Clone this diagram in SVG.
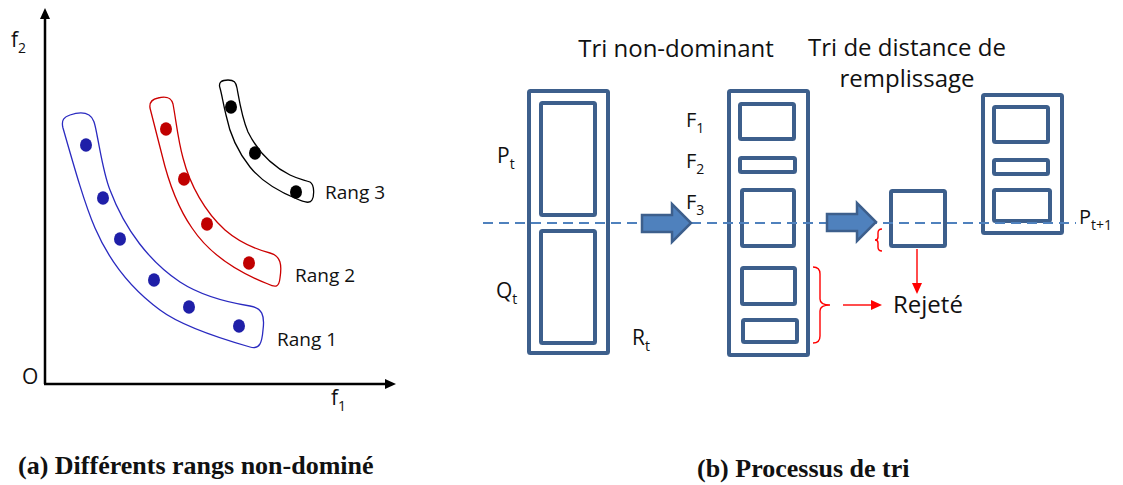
<svg xmlns="http://www.w3.org/2000/svg" width="1123" height="485" viewBox="0 0 1123 485">
<style>
.t{font-family:"Open Sans","Liberation Sans",sans-serif;fill:#111}
.cap{font-family:"Liberation Serif",serif;font-weight:bold;font-size:26px;fill:#111}
.box{fill:none;stroke:#3D5F8C;stroke-width:4}
.arr{fill:#4F81BD;stroke:#3D5F8C;stroke-width:2.5;stroke-linejoin:miter}
.red{fill:none;stroke:#FF0000;stroke-width:1.4}
.hull{fill:none;stroke-width:1.3}
</style>
<rect width="1123" height="485" fill="#fff"/>

<!-- (a) panel -->
<g id="axes">
<line x1="45" y1="384" x2="45" y2="17" stroke="#000" stroke-width="2.5"/>
<polygon points="40,19 50,19 45,8" fill="#000"/>
<line x1="44" y1="384" x2="386" y2="384" stroke="#000" stroke-width="2.5"/>
<polygon points="385,379 385,389 396,384" fill="#000"/>
<text class="t" x="11" y="47" font-size="21">f<tspan font-size="14" dy="6">2</tspan></text>
<text class="t" x="22" y="384" font-size="21">O</text>
<text class="t" x="331" y="405" font-size="21">f<tspan font-size="14" dy="6">1</tspan></text>
</g>

<g id="rang1">
<path class="hull" stroke="#2a2ac0" d="M63,128 C61,120 64,117 70,115 C76,113 84,112 89,115 C94,118 95,125 97,135 C101,155 104,175 110,190 C125,230 150,262 180,282 C200,295 225,302 250,306 C262,308 265,315 263,330 C262,342 260,350 250,347 C215,337 180,325 160,310 C130,288 108,258 95,228 C85,205 75,170 63,128 Z"/>
<g fill="#1f1fa8">
<ellipse cx="86" cy="145" rx="6" ry="6.7"/>
<ellipse cx="103" cy="198" rx="6" ry="6.7"/>
<ellipse cx="120" cy="239" rx="6" ry="6.7"/>
<ellipse cx="154" cy="280" rx="6" ry="6.7"/>
<ellipse cx="189" cy="307" rx="6" ry="6.7"/>
<ellipse cx="239" cy="326" rx="6" ry="6.7"/>
</g>
<text class="t" x="277" y="346" font-size="19">Rang 1</text>
</g>

<g id="rang2">
<path class="hull" stroke="#cc0000" d="M150,108 C149,101 153,99 158,98 C166,96 171,97 173,104 C176,120 178,140 183,158 C190,185 205,212 225,230 C240,243 255,249 270,253 C281,256 282,265 280,278 C279,287 276,288 268,284 C240,273 210,255 192,228 C176,205 168,180 162,155 C157,135 153,120 150,108 Z"/>
<g fill="#c00000">
<ellipse cx="166" cy="129" rx="6" ry="6.7"/>
<ellipse cx="184" cy="179" rx="6" ry="6.7"/>
<ellipse cx="207" cy="224" rx="6" ry="6.7"/>
<ellipse cx="249" cy="263" rx="6" ry="6.7"/>
</g>
<text class="t" x="295" y="282" font-size="19">Rang 2</text>
</g>

<g id="rang3">
<path class="hull" stroke="#000" d="M220,88 C218,82 222,80 228,80 C234,80 236,82 237,88 C240,105 242,118 248,132 C257,150 270,165 290,175 C298,179 305,180 310,182 C315,185 314,197 312,200 C310,204 304,202 297,199 C280,192 262,182 250,167 C238,152 230,135 226,115 C223,103 222,95 220,88 Z"/>
<g fill="#000">
<ellipse cx="231" cy="107" rx="6" ry="6.7"/>
<ellipse cx="255" cy="153" rx="6" ry="6.7"/>
<ellipse cx="296" cy="192" rx="6" ry="6.7"/>
</g>
<text class="t" x="325" y="199" font-size="19">Rang 3</text>
</g>

<text class="cap" x="18" y="474">(a) Différents rangs non-dominé</text>

<!-- (b) panel -->
<g id="titles">
<text class="t" x="676" y="57" font-size="24" text-anchor="middle">Tri non-dominant</text>
<text class="t" x="907" y="56" font-size="24" text-anchor="middle">Tri de distance de</text>
<text class="t" x="907" y="87" font-size="24" text-anchor="middle">remplissage</text>
</g>

<g id="Rt">
<rect class="box" x="529" y="91" width="79" height="262" rx="1.5"/>
<rect class="box" x="541" y="103" width="54" height="112" rx="1.5"/>
<rect class="box" x="541" y="231" width="54" height="112" rx="1.5"/>
<text class="t" x="497" y="163" font-size="21">P<tspan font-size="14" dy="6">t</tspan></text>
<text class="t" x="496" y="298" font-size="21">Q<tspan font-size="14" dy="6">t</tspan></text>
<text class="t" x="632" y="345" font-size="21">R<tspan font-size="14" dy="6">t</tspan></text>
</g>

<g id="fronts">
<rect class="box" x="729" y="91" width="79" height="264" rx="1.5"/>
<rect class="box" x="740" y="104" width="54" height="35" rx="1.5"/>
<rect class="box" x="740" y="158" width="55" height="14" rx="1.5"/>
<rect class="box" x="742" y="190" width="52" height="56" rx="1.5"/>
<rect class="box" x="742" y="268" width="53" height="36" rx="1.5"/>
<rect class="box" x="743" y="320" width="54" height="22" rx="1.5"/>
<text class="t" x="686" y="127" font-size="20">F<tspan font-size="14" dy="6">1</tspan></text>
<text class="t" x="686" y="168" font-size="20">F<tspan font-size="14" dy="6">2</tspan></text>
<text class="t" x="686" y="209" font-size="20">F<tspan font-size="14" dy="6">3</tspan></text>
</g>

<g id="f3sorted">
<rect class="box" x="891" y="191" width="54" height="55" rx="1.5"/>
</g>

<g id="Pt1">
<rect class="box" x="983" y="95" width="79" height="138" rx="1.5"/>
<rect class="box" x="994" y="107" width="54" height="35" rx="1.5"/>
<rect class="box" x="994" y="160" width="54" height="14" rx="1.5"/>
<rect class="box" x="994" y="190" width="56" height="31" rx="1.5"/>
<text class="t" x="1079" y="224" font-size="20">P<tspan font-size="14" dy="6">t+1</tspan></text>
</g>

<g id="rejete">
<text class="t" x="893" y="313" font-size="24">Rejeté</text>
</g>

<g id="connectors">
<line x1="483" y1="223" x2="1076" y2="223" stroke="#4F81BD" stroke-width="2" stroke-dasharray="10 6"/>
<polygon class="arr" points="642,215 672,215 672,204 691,223 672,242 672,232 642,232"/>
<polygon class="arr" points="827,214 857,214 857,203 876,222 857,241 857,231 827,231"/>
<path class="red" d="M882,229 Q878,229 878,233 L878,237 Q878,240 875,240 Q878,240 878,243 L878,247 Q878,251 882,251"/>
<path class="red" d="M813,267 Q820,267 820,274 L820,299 Q820,305 830,305 Q820,305 820,311 L820,336 Q820,343 813,343"/>
<line x1="917" y1="249" x2="917" y2="284" stroke="#FF0000" stroke-width="1.4"/>
<polygon points="912,283 922,283 917,294" fill="#FF0000"/>
<line x1="843" y1="305" x2="872" y2="305" stroke="#FF0000" stroke-width="1.4"/>
<polygon points="871,300 871,310 882,305" fill="#FF0000"/>
</g>

<text class="cap" x="697" y="477">(b) Processus de tri</text>
</svg>
